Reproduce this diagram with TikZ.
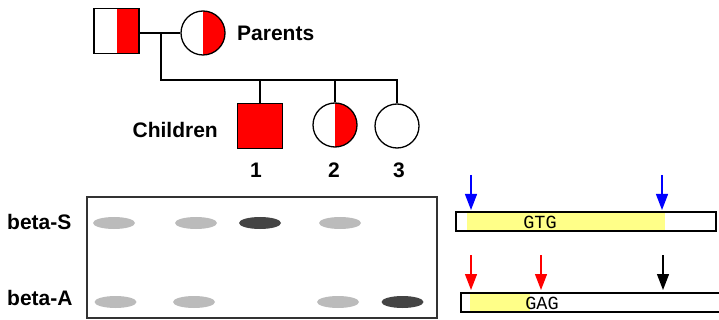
\documentclass[tikz,border=0pt]{standalone}
\usepackage{fontspec}
\setmainfont{Liberation Sans}
\newfontfamily\monof{Liberation Mono}
\usetikzlibrary{arrows.meta}
\definecolor{pedred}{HTML}{FF0000}
\definecolor{bandlight}{HTML}{BBBBBB}
\definecolor{banddark}{HTML}{444444}
\definecolor{seqyellow}{HTML}{FFFF88}
\definecolor{gelframe}{HTML}{333333}
\tikzset{
  lbl/.style={font=\fontsize{21}{22}\selectfont\bfseries, inner sep=0pt},
  seq/.style={font=\monof\fontsize{18.5}{19}\selectfont, inner sep=0pt},
  male/.style={draw, line width=1.3pt, minimum size=45pt, inner sep=0pt, shape=rectangle},
  female/.style={draw, line width=1.3pt, minimum size=44pt, inner sep=0pt, shape=circle},
  halfred/.style={path picture={\fill[pedred] (path picture bounding box.north) rectangle (path picture bounding box.south east);}},
  fullred/.style={fill=pedred},
  pedline/.style={line width=1.3pt},
  cutarrow/.style={line width=1.3pt, -{Triangle[width=12pt,length=16pt]}},
}
\begin{document}
\begin{tikzpicture}[x=1pt,y=-1pt]
\useasboundingbox (0,0) rectangle (719,320);
% pedigree
\node[male, halfred] (father) at (116.5,31) {};
\node[female, halfred] (mother) at (203,33) {};
\draw[pedline] (father.east |- mother.west) -- (mother.west);
\coordinate (mid) at (161,33);
\coordinate (sib) at (161,80);
\node[male, fullred] (c1) at (260,126) {};
\node[female, halfred] (c2) at (335,125) {};
\node[female] (c3) at (397,126) {};
\coordinate (sibend) at (c3.north |- sib);
\draw[pedline] (mid) -- (sib) -- (sibend) -- (c3.north);
\draw[pedline] (c1.north |- sib) -- (c1.north);
\draw[pedline] (c2.north |- sib) -- (c2.north);
\node[lbl, anchor=west] (parents) at (237,33) {Parents};
\node[lbl, anchor=east] (children) at (218,130) {Children};
\node[lbl] (n1) at (256,170) {1};
\node[lbl] (n2) at (334,170) {2};
\node[lbl] (n3) at (399,170) {3};
% gel
\draw[line width=2pt, draw=gelframe] (87,197) rectangle (437,318);
\node[lbl, anchor=west] (betaS) at (7,222) {beta-S};
\node[lbl, anchor=west] (betaA) at (7,298) {beta-A};
\fill[bandlight] (114,223) ellipse [x radius=21, y radius=6];
\fill[bandlight] (196,223) ellipse [x radius=21, y radius=6];
\fill[banddark] (260,223) ellipse [x radius=21, y radius=6];
\fill[bandlight] (340,223) ellipse [x radius=21, y radius=6];
\fill[bandlight] (115.5,302) ellipse [x radius=21, y radius=6];
\fill[bandlight] (194,302) ellipse [x radius=21, y radius=6];
\fill[bandlight] (338,302) ellipse [x radius=21, y radius=6];
\fill[banddark] (402.5,302) ellipse [x radius=21, y radius=6];
% sequence bars
\fill[seqyellow] (467,213) rectangle (665,230);
\draw[line width=1.3pt] (456,212) rectangle (716,231);
\node[seq] (gtg) at (540,222) {GTG};
\fill[seqyellow] (470,294) rectangle (530,311);
\draw[line width=1.3pt] (461,293) rectangle (730,312);
\node[seq] (gag) at (542,303) {GAG};
\coordinate (b1s) at (471,175); \coordinate (b1e) at (471,210);
\coordinate (b2s) at (662,175); \coordinate (b2e) at (662,210);
\coordinate (r1s) at (471,255); \coordinate (r1e) at (471,290);
\coordinate (r2s) at (541,255); \coordinate (r2e) at (541,290);
\coordinate (k1s) at (663,255); \coordinate (k1e) at (663,290);
\draw[cutarrow, blue] (b1s) -- (b1e);
\draw[cutarrow, blue] (b2s) -- (b2e);
\draw[cutarrow, red] (r1s) -- (r1e);
\draw[cutarrow, red] (r2s) -- (r2e);
\draw[cutarrow, black] (k1s) -- (k1e);
\end{tikzpicture}
\end{document}
